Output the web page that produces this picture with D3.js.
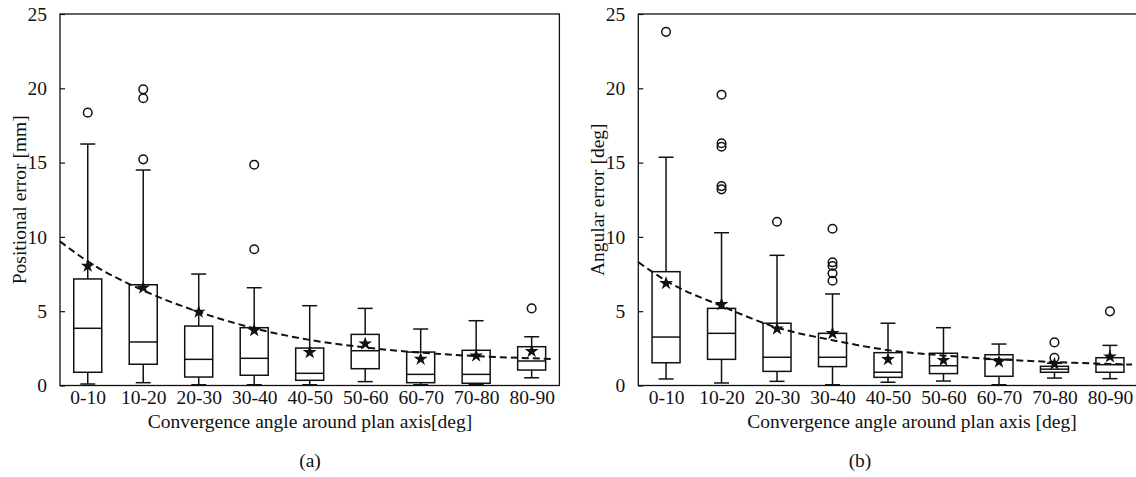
<!DOCTYPE html>
<html>
<head>
<meta charset="utf-8">
<script src="https://cdn.jsdelivr.net/npm/d3@7"></script>
<style>
  body { margin: 0; background: #fff; }
  svg { display: block; font-family: "Liberation Serif", "DejaVu Serif", serif; }
</style>
</head>
<body>
<svg id="chart" width="1136" height="477"></svg>
<script>
// categories (convergence angle bins)
var categories = ["0-10", "10-20", "20-30", "30-40", "40-50", "50-60", "60-70", "70-80", "80-90"];
var yTicks = [0, 5, 10, 15, 20, 25];

// (a) positional error [mm]
var posLow    = [0.1, 0.19, 0.05, 0.05, 0.05, 0.26, 0.05, 0.05, 0.52];
var posQ1     = [0.89, 1.43, 0.57, 0.69, 0.35, 1.13, 0.19, 0.15, 1.04];
var posMedian = [3.85, 2.93, 1.76, 1.83, 0.82, 2.34, 0.75, 0.75, 1.65];
var posQ3     = [7.17, 6.78, 4.0, 3.89, 2.52, 3.44, 2.25, 2.37, 2.61];
var posHigh   = [16.25, 14.5, 7.5, 6.58, 5.37, 5.19, 3.8, 4.36, 3.28];
var posMean   = [8.04, 6.58, 4.95, 3.71, 2.23, 2.81, 1.78, 2.0, 2.3];
var posOutliers = [[18.36], [15.22, 19.33, 19.93], [], [9.17, 14.86], [], [], [], [], [5.19]];
// fitted curve at x = 0.5, 1 ... 9, 9.4
var fitX   = [0.5, 1, 2, 3, 4, 5, 6, 7, 8, 9, 9.4];
var posFit = [9.7, 8.35, 6.4, 4.95, 3.85, 3.07, 2.56, 2.21, 1.98, 1.83, 1.78];

// (b) angular error [deg]
var angLow    = [0.44, 0.17, 0.28, 0.05, 0.22, 0.3, 0.05, 0.5, 0.46];
var angQ1     = [1.53, 1.76, 0.95, 1.27, 0.55, 0.8, 0.62, 0.89, 0.89];
var angMedian = [3.26, 3.51, 1.9, 1.9, 0.89, 1.33, 1.76, 1.1, 1.4];
var angQ3     = [7.66, 5.19, 4.19, 3.51, 2.21, 2.17, 2.07, 1.29, 1.87];
var angHigh   = [15.36, 10.28, 8.76, 6.16, 4.19, 3.89, 2.79, 1.5, 2.7];
var angMean   = [6.88, 5.46, 3.82, 3.51, 1.76, 1.7, 1.6, 1.45, 1.94];
var angOutliers = [[23.8], [13.2, 13.42, 16.07, 16.3, 19.57], [11.02], [7.05, 7.55, 8.04, 8.29, 10.55], [], [], [], [1.87, 2.9], [4.99]];
var angFit = [8.3, 7.05, 5.35, 3.9, 3.05, 2.38, 2.02, 1.76, 1.58, 1.45, 1.41];

var svg = d3.select("#chart");
var ink = "#111";
var fs = 19.5;

function panel(opt){
  var left = opt.left, width = 499.4, top = 14, bottom = 385.5;
  var x = d3.scaleLinear().domain([0.5, 9.5]).range([left, left + width]);
  var y = d3.scaleLinear().domain([0, 25]).range([bottom, top]);
  var g = svg.append("g");

  // frame
  g.append("rect")
    .attr("x", left).attr("y", top)
    .attr("width", width).attr("height", bottom - top)
    .attr("fill", "none").attr("stroke", ink).attr("stroke-width", 1.3);

  // y axis, ticks pointing inward
  var yAxis = d3.axisLeft(y).tickValues(yTicks).tickSizeInner(-5).tickSizeOuter(0).tickPadding(13);
  var ya = g.append("g").attr("transform", "translate(" + left + ",0)").call(yAxis);
  ya.select(".domain").remove();
  ya.selectAll("line").attr("stroke", ink).attr("stroke-width", 1.2);
  ya.selectAll("text").attr("font-size", fs).attr("fill", ink)
    .attr("font-family", "Liberation Serif");

  // x axis labels
  var xAxis = d3.axisBottom(x).tickValues(d3.range(1, 10))
    .tickFormat(function(d){ return categories[d - 1]; })
    .tickSize(0).tickPadding(5);
  var xa = g.append("g").attr("transform", "translate(0," + bottom + ")").call(xAxis);
  xa.select(".domain").remove();
  xa.selectAll("text").attr("font-size", fs).attr("fill", ink)
    .attr("font-family", "Liberation Serif");

  var d = opt.data;
  var boxW = 28, capW = 15;
  var bx = g.append("g").attr("stroke", ink).attr("stroke-width", 1.5).attr("fill", "none");
  categories.forEach(function(c, i){
    var cx = x(i + 1);
    // whiskers
    bx.append("line").attr("x1", cx).attr("x2", cx).attr("y1", y(d.q3[i])).attr("y2", y(d.high[i]));
    bx.append("line").attr("x1", cx).attr("x2", cx).attr("y1", y(d.q1[i])).attr("y2", y(d.low[i]));
    bx.append("line").attr("x1", cx - capW / 2).attr("x2", cx + capW / 2).attr("y1", y(d.high[i])).attr("y2", y(d.high[i]));
    bx.append("line").attr("x1", cx - capW / 2).attr("x2", cx + capW / 2).attr("y1", y(d.low[i])).attr("y2", y(d.low[i]));
    // box
    bx.append("rect").attr("x", cx - boxW / 2).attr("y", y(d.q3[i]))
      .attr("width", boxW).attr("height", y(d.q1[i]) - y(d.q3[i]));
    bx.append("line").attr("x1", cx - boxW / 2).attr("x2", cx + boxW / 2).attr("y1", y(d.median[i])).attr("y2", y(d.median[i]));
    // outliers
    d.outliers[i].forEach(function(v){
      bx.append("circle").attr("cx", cx).attr("cy", y(v)).attr("r", 4.3).attr("stroke-width", 1.5);
    });
  });

  // fitted curve
  var line = d3.line()
    .x(function(v, i){ return x(fitX[i]); })
    .y(function(v){ return y(v); })
    .curve(d3.curveMonotoneX);
  g.append("path").datum(d.fit)
    .attr("d", line)
    .attr("fill", "none").attr("stroke", ink)
    .attr("stroke-width", 2).attr("stroke-dasharray", "7,4");

  // means
  var star = d3.symbol().type(d3.symbolStar).size(60);
  g.selectAll(".mean").data(d.mean).enter().append("path")
    .attr("class", "mean")
    .attr("d", star)
    .attr("fill", ink)
    .attr("transform", function(v, i){ return "translate(" + x(i + 1) + "," + y(v) + ")"; });

  // axis titles
  g.append("text")
    .attr("transform", "translate(" + opt.ylabX + "," + ((top + bottom) / 2) + ") rotate(-90)")
    .attr("text-anchor", "middle").attr("font-size", fs).attr("fill", ink)
    .text(opt.ylab);
  g.append("text")
    .attr("x", opt.xlabX).attr("y", 428)
    .attr("text-anchor", "middle").attr("font-size", fs).attr("fill", ink)
    .text(opt.xlab);
  g.append("text")
    .attr("x", opt.capX).attr("y", 467)
    .attr("text-anchor", "middle").attr("font-size", fs).attr("fill", ink)
    .text(opt.caption);
}

panel({
  left: 60, ylabX: 26, xlabX: 310, capX: 310,
  ylab: "Positional error [mm]",
  xlab: "Convergence angle around plan axis[deg]",
  caption: "(a)",
  data: { low: posLow, q1: posQ1, median: posMedian, q3: posQ3, high: posHigh,
          mean: posMean, outliers: posOutliers, fit: posFit }
});

panel({
  left: 638.3, ylabX: 604, xlabX: 912, capX: 860,
  ylab: "Angular error [deg]",
  xlab: "Convergence angle around plan axis [deg]",
  caption: "(b)",
  data: { low: angLow, q1: angQ1, median: angMedian, q3: angQ3, high: angHigh,
          mean: angMean, outliers: angOutliers, fit: angFit }
});
</script>
</body>
</html>
